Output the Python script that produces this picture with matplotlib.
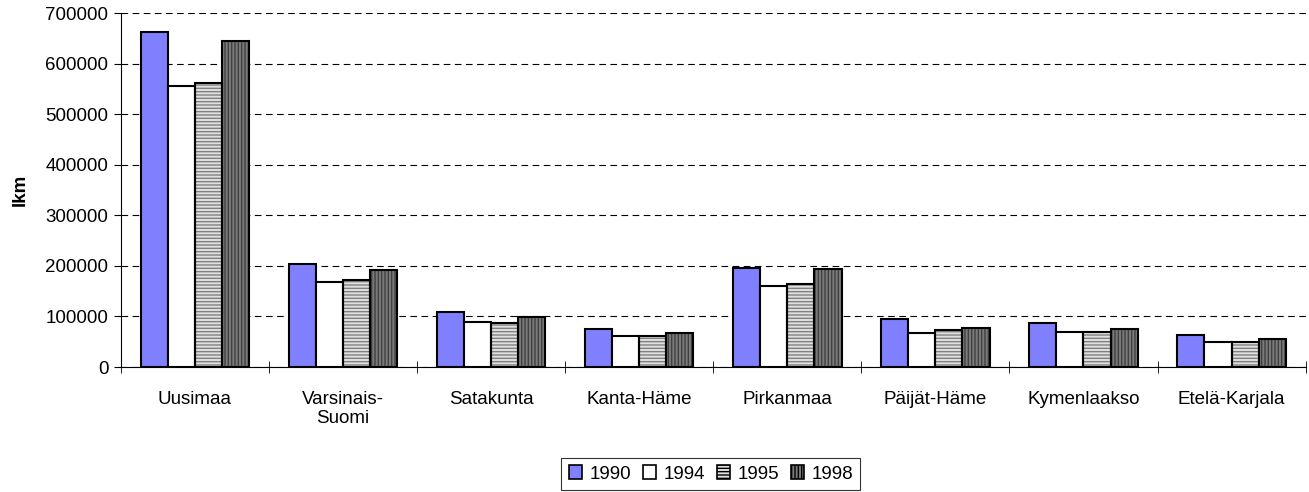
import matplotlib.pyplot as plt
import numpy as np

plt.rcParams['font.family'] = ['Liberation Sans', 'DejaVu Sans']
plt.rcParams['font.size'] = 13.5

regions = ['Uusimaa', 'Varsinais-\nSuomi', 'Satakunta', 'Kanta-Häme', 'Pirkanmaa',
           'Päijät-Häme', 'Kymenlaakso', 'Etelä-Karjala']
years = ['1990', '1994', '1995', '1998']

v1990 = [662000, 203000, 108000, 74500, 196000, 95000, 86500, 64000]
v1994 = [556000, 167500, 88500, 61500, 161000, 66500, 70000, 49500]
v1995 = [561000, 172500, 88000, 61000, 165000, 72500, 70000, 49500]
v1998 = [645000, 192000, 98000, 67000, 194000, 77500, 75000, 55000]

series = [v1990, v1994, v1995, v1998]
faces = ['#8080ff', 'white', '#e0e0e0', '#7a7a7a']
hatches = [None, None, '-----', '|||||']
hatch_cols = [None, None, '#808080', '#404040']

fig = plt.figure(figsize=(13.09, 4.92), dpi=100)
ax = fig.add_axes([0.0924, 0.254, 0.905, 0.7195])

x = np.arange(len(regions))
w = 0.183
for i, vals in enumerate(series):
    pos = x + (i - 1.5) * w
    if hatches[i]:
        ax.bar(pos, vals, w, color=faces[i], hatch=hatches[i],
               edgecolor=hatch_cols[i], linewidth=0, zorder=2)
        ax.bar(pos, vals, w, fill=False, edgecolor='black', linewidth=1.5, zorder=3)
    else:
        ax.bar(pos, vals, w, color=faces[i], edgecolor='black', linewidth=1.5, zorder=3)

ax.set_xlim(-0.5, len(regions) - 0.5)
ax.set_ylim(0, 700000)
ax.set_yticks(range(0, 700001, 100000))
ax.yaxis.grid(True, linestyle=(0, (6, 4)), color='black', linewidth=0.8, zorder=1)
ax.set_axisbelow(True)
ax.set_ylabel('lkm', fontweight='bold', fontsize=13.5, labelpad=12)

ax.set_xticks(x)
ax.set_xticklabels(regions)
ax.tick_params(axis='x', length=0, pad=17)
ax.set_xticks(np.arange(-0.5, len(regions)), minor=True)
ax.tick_params(axis='x', which='minor', length=8, direction='inout')
ax.tick_params(axis='y', length=5, direction='out', pad=4)

ax.spines['top'].set_visible(False)
ax.spines['right'].set_visible(False)

handles = [plt.Rectangle((0, 0), 1, 1, facecolor=faces[i], edgecolor='black',
                         hatch=hatches[i], linewidth=1.2) for i in range(4)]
leg = fig.legend(handles, years, loc='center', bbox_to_anchor=(0.543, 0.0366), ncol=4,
                 frameon=True, fancybox=False, edgecolor='black', handlelength=0.72,
                 handleheight=0.72, handletextpad=0.37, columnspacing=0.64,
                 borderpad=0.4, borderaxespad=0, fontsize=13.5)
leg.get_frame().set_linewidth(0.8)

fig.savefig('out.png', dpi=100)
